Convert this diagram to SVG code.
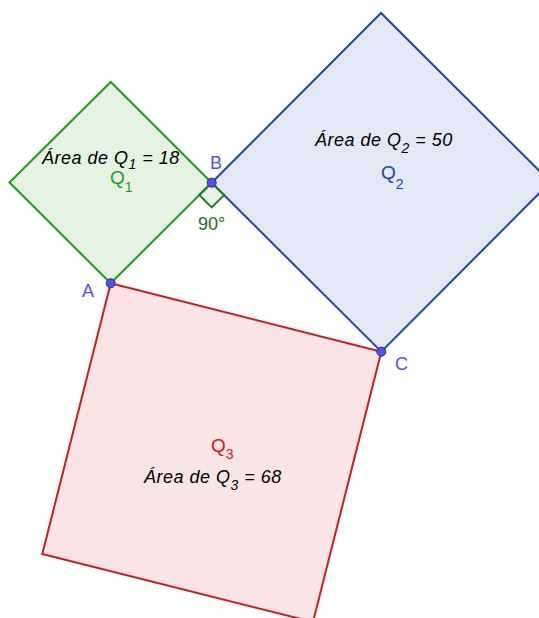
<svg xmlns="http://www.w3.org/2000/svg" width="539" height="618" viewBox="0 0 539 618">
<style>
text{font-family:"Liberation Sans",Arial,sans-serif;}
.area{font-size:18px;font-style:italic;fill:#000;letter-spacing:0.5px;}
.sub{font-size:14px;}
.lbl{font-size:19px;}
.pt{font-size:18px;fill:#5050ff;}
.vert{fill:#5050ff;stroke:#303040;stroke-width:1;}
</style>
<rect width="539" height="618" fill="#fff"/>
<g id="Q3">
<polygon points="110.7,283.3 381.3,351.7 313,622 42.3,554" fill="#f9e4e6" stroke="#d01c1c" stroke-width="2" stroke-linejoin="miter"/>
<text class="lbl" x="211" y="452" fill="#e01414">Q<tspan class="sub" dy="7">3</tspan></text>
<text class="area" x="144" y="483">Área de Q<tspan class="sub" dy="7">3</tspan><tspan dy="-7"> = 68</tspan></text>
</g>
<g id="Q2">
<polygon points="211.7,182.7 381,13 550.5,182 381.3,351.7" fill="#e4e8f4" stroke="#1c47a0" stroke-width="2"/>
<text class="area" x="315" y="146">Área de Q<tspan class="sub" dy="7">2</tspan><tspan dy="-7"> = 50</tspan></text>
<text class="lbl" x="381" y="179" fill="#1c47a0">Q<tspan class="sub" dy="10">2</tspan></text>
</g>
<g id="Q1">
<polygon points="110.7,283.3 211.7,182.7 110.7,82 9.5,182.5" fill="#e5f3e3" stroke="#1e9e1e" stroke-width="2"/>
<text class="area" x="42" y="164">Área de Q<tspan class="sub" dy="5">1</tspan><tspan dy="-5"> = 18</tspan></text>
<text class="lbl" x="110" y="184" fill="#1e9e1e">Q<tspan class="sub" dy="8">1</tspan></text>
</g>
<g id="angle">
<polygon points="211.7,182.7 199.3,195 211.7,207.4 224.1,195.1" fill="#1e6e1e" fill-opacity="0.1" stroke="#1e7e1e" stroke-width="2"/>
<text x="198" y="230" font-size="18" fill="#1e6e1e">90°</text>
</g>
<g id="points">
<circle class="vert" cx="110.7" cy="283.3" r="4.5"/>
<circle class="vert" cx="211.7" cy="182.7" r="4.5"/>
<circle class="vert" cx="381.3" cy="351.7" r="4.5"/>
<text class="pt" x="82" y="297">A</text>
<text class="pt" x="210" y="169">B</text>
<text class="pt" x="395" y="370">C</text>
</g>
</svg>
